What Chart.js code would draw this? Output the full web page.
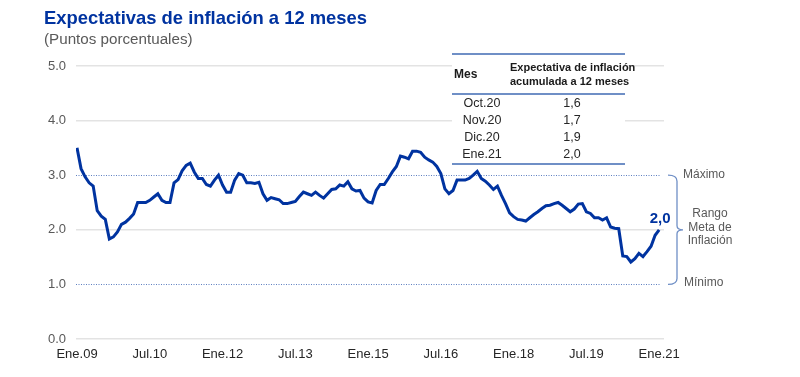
<!DOCTYPE html>
<html>
<head>
<meta charset="utf-8">
<script src="https://cdn.jsdelivr.net/npm/chart.js@4.4.0/dist/chart.umd.min.js"></script>
<style>
  html, body { margin:0; padding:0; background:#fff; }
  #wrap { position:relative; width:800px; height:377px; overflow:hidden; font-family:"Liberation Sans", Arial, sans-serif; }
  canvas { position:absolute; left:0; top:0; }
  .t { position:absolute; white-space:nowrap; }
  #title { left:44px; top:7px; font-size:18.4px; font-weight:bold; color:#0033a0; }
  #sub { left:44px; top:30px; font-size:15.2px; color:#595959; }
  #tbl { position:absolute; left:452px; top:53px; width:173px; height:108px; background:#fff;
         border-top:2px solid #6f8fc6; border-bottom:2px solid #6f8fc6; }
  #tbl .hdr { position:absolute; left:0; top:0; width:173px; height:38px; border-bottom:2px solid #6f8fc6; }
  #tbl .b { font-weight:bold; font-size:11px; color:#1a1a1a; }
  #tbl .r { font-size:12.5px; color:#262626; }
  .ann { position:absolute; font-size:12px; color:#595959; white-space:nowrap; }
</style>
</head>
<body>
<div id="wrap">
  <canvas id="c" width="800" height="377"></canvas>
  <div id="title" class="t">Expectativas de inflación a 12 meses</div>
  <div id="sub" class="t">(Puntos porcentuales)</div>
  <div id="tbl"></div>
  <div class="ann" style="left:683px; top:167px;">Máximo</div>
  <div class="ann" style="left:684px; top:275px;">Mínimo</div>
  <div class="ann" style="left:670px; top:207px; width:80px; text-align:center; line-height:13.5px;">Rango<br>Meta de<br>Inflación</div>
</div>
<script>
// ---- data ----
const xTickLabels = ["Ene.09","Jul.10","Ene.12","Jul.13","Ene.15","Jul.16","Ene.18","Jul.19","Ene.21"];
const xTickPositions = [0,18,36,54,72,90,108,126,144];
const values = [
  3.50,3.12,2.97,2.86,2.80,2.35,2.25,2.19,1.83,1.87,1.96,2.10,
  2.14,2.21,2.29,2.50,2.50,2.50,2.54,2.60,2.66,2.54,2.50,2.50,
  2.86,2.92,3.08,3.18,3.22,3.06,2.94,2.94,2.83,2.80,2.91,3.00,
  2.82,2.69,2.69,2.91,3.03,3.00,2.86,2.86,2.85,2.87,2.66,2.54,
  2.59,2.57,2.55,2.48,2.48,2.50,2.52,2.61,2.69,2.66,2.63,2.69,
  2.63,2.58,2.66,2.74,2.75,2.82,2.80,2.88,2.75,2.71,2.72,2.58,
  2.51,2.49,2.72,2.83,2.83,2.94,3.06,3.16,3.35,3.33,3.30,3.44,
  3.44,3.42,3.33,3.28,3.24,3.16,3.03,2.75,2.66,2.72,2.91,2.91,
  2.91,2.94,3.00,3.07,2.94,2.89,2.82,2.74,2.80,2.63,2.48,2.31,
  2.24,2.19,2.18,2.16,2.22,2.28,2.33,2.39,2.44,2.45,2.48,2.50,
  2.45,2.39,2.33,2.38,2.47,2.48,2.33,2.30,2.22,2.22,2.18,2.22,
  2.05,2.03,2.02,1.52,1.51,1.41,1.47,1.57,1.51,1.6,1.7,1.9,
  2.0
];
const yTicks = [0,1,2,3,4,5];
const rangeMax = 3.0, rangeMin = 1.0;
const tableMonths = ["Oct.20","Nov.20","Dic.20","Ene.21"];
const tableValues = ["1,6","1,7","1,9","2,0"];
const lastLabel = "2,0";

// ---- table ----
const tbl = document.getElementById('tbl');
let html = '<div class="hdr"></div>';
html += '<div class="t b" style="left:2px; top:12px; font-size:12px;">Mes</div>';
html += '<div class="t b" style="left:58px; top:5px; width:114px; text-align:center; line-height:14px;">Expectativa de inflación<br>acumulada a 12 meses</div>';
tableMonths.forEach((m,i)=>{
  const top = 41 + i*17;
  html += `<div class="t r" style="left:0px; top:${top}px; width:60px; text-align:center;">${m}</div>`;
  html += `<div class="t r" style="left:100px; top:${top}px; width:40px; text-align:center;">${tableValues[i]}</div>`;
});
tbl.innerHTML = html;

// ---- plugins ----
const extras = {
  id:'extras',
  beforeDatasetsDraw(chart){
    const {ctx, scales:{y}, chartArea} = chart;
    ctx.save();
    ctx.strokeStyle = '#5d7fc0';
    ctx.lineWidth = 1;
    ctx.setLineDash([1,1.5]);
    [rangeMax, rangeMin].forEach(v=>{
      const yy = Math.round(y.getPixelForValue(v)) + 0.5;
      ctx.beginPath(); ctx.moveTo(chartArea.left, yy); ctx.lineTo(661, yy); ctx.stroke();
    });
    ctx.restore();
  },
  afterDraw(chart){
    const {ctx, scales:{x,y}} = chart;
    const yT = y.getPixelForValue(rangeMax), yB = y.getPixelForValue(rangeMin);
    const yM = (yT+yB)/2;
    const xv = 677;
    ctx.save();
    ctx.strokeStyle = '#6f8fc6';
    ctx.lineWidth = 1.3;
    ctx.beginPath();
    ctx.moveTo(668, yT);
    ctx.quadraticCurveTo(xv, yT, xv, yT+6);
    ctx.lineTo(xv, yM-4);
    ctx.quadraticCurveTo(xv, yM, xv+6, yM);
    ctx.quadraticCurveTo(xv, yM, xv, yM+4);
    ctx.lineTo(xv, yB-6);
    ctx.quadraticCurveTo(xv, yB, 668, yB);
    ctx.stroke();
    // last value label
    const li = values.length-1;
    const px = x.getPixelForValue(li), py = y.getPixelForValue(values[li]);
    ctx.fillStyle = '#0033a0';
    ctx.font = 'bold 15px "Liberation Sans", Arial, sans-serif';
    ctx.textAlign = 'center';
    ctx.textBaseline = 'middle';
    ctx.fillText(lastLabel, px+1, py-11);
    ctx.restore();
  }
};

new Chart(document.getElementById('c'), {
  type:'line',
  data:{ datasets:[{
    data: values.map((v,i)=>({x:i, y:v})),
    borderColor:'#0033a0', borderWidth:3, pointRadius:0, tension:0, fill:false
  }]},
  options:{
    responsive:false, animation:false, devicePixelRatio:1,
    layout:{ padding:{ top:66, right:136, bottom:0, left:0 } },
    plugins:{ legend:{display:false}, tooltip:{enabled:false} },
    scales:{
      x:{
        type:'linear', min:-0.25, max:145.2,
        grid:{ display:false, drawTicks:false },
        border:{ display:false },
        afterBuildTicks(axis){ axis.ticks = xTickPositions.map(v=>({value:v})); },
        afterFit(scale){ scale.height = 38; },
        ticks:{
          autoSkip:false, maxRotation:0, padding:8,
          color:'#262626',
          font:{ family:'"Liberation Sans", Arial, sans-serif', size:13 },
          callback(v){ const k = xTickPositions.indexOf(v); return k>=0 ? xTickLabels[k] : ''; }
        }
      },
      y:{
        min:0, max:5,
        afterBuildTicks(axis){ axis.ticks = yTicks.map(v=>({value:v})); },
        afterFit(scale){ scale.width = 76; },
        grid:{
          drawTicks:false, lineWidth:1.5,
          color(ctx){ const v = ctx.tick && ctx.tick.value; return (v===rangeMax || v===rangeMin) ? 'rgba(0,0,0,0)' : '#e3e3e3'; }
        },
        border:{ display:false },
        ticks:{
          padding:10, color:'#595959',
          font:{ family:'"Liberation Sans", Arial, sans-serif', size:13 },
          callback(v){ return Number(v).toFixed(1); }
        }
      }
    }
  },
  plugins:[extras]
});
</script>
</body>
</html>
